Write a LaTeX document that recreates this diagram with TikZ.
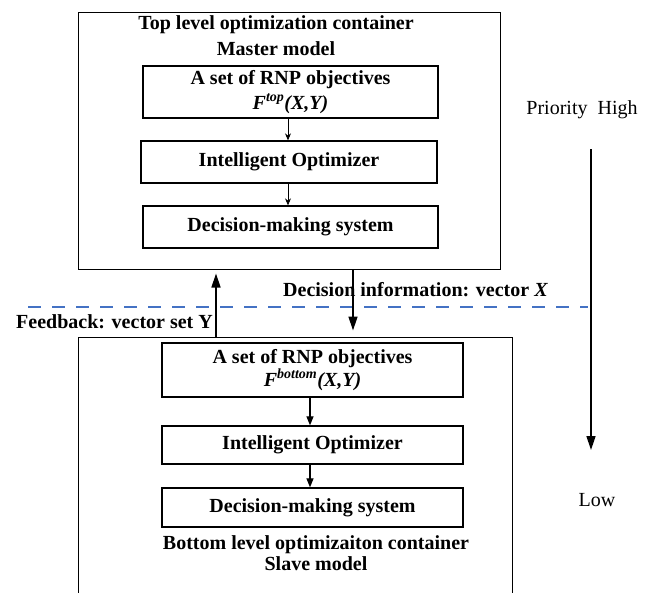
\documentclass[tikz,border=0pt]{standalone}
\usepackage{fontspec}
\setmainfont{Liberation Serif}
\usetikzlibrary{arrows.meta}
\definecolor{dashblue}{RGB}{68,114,196}
\begin{document}
\begin{tikzpicture}[x=1pt,y=-1pt,
  every node/.style={font=\fontsize{20}{25}\selectfont\bfseries, inner sep=0pt},
  box/.style={draw, line width=1.3pt, align=center},
  cont/.style={draw, line width=1pt},
  bigarrow/.style={line width=1.4pt, -{Triangle[length=14pt,width=9pt]}},
  smallarrow/.style={line width=0.9pt, -{Stealth[length=7pt,width=6pt]}},
  midarrow/.style={line width=1.2pt, -{Triangle[length=9pt,width=7pt]}},
  plain/.style={font=\fontsize{20}{24}\selectfont},
]
\useasboundingbox (0,0) rectangle (645,592);
\clip (0,0) rectangle (645,592);
% containers
\node[cont, minimum width=422pt, minimum height=257pt] (top) at (289,140.5) {};
\node[cont, minimum width=434pt, minimum height=280pt] (bot) at (295,477) {};
% top container content
\node[align=center, font=\fontsize{20}{26}\selectfont\bfseries] (toptitle) at (276,36) {Top level optimization container\\Master model};
\node[box, minimum width=295pt, minimum height=52pt] (t1) at (290.5,92) {A set of RNP objectives\\\textit{F\textsuperscript{top}(X,Y)}};
\node[box, minimum width=296pt, minimum height=42pt] (t2) at (289,162) {Intelligent Optimizer};
\node[box, minimum width=295pt, minimum height=42pt] (t3) at (290.5,227) {Decision-making system};
% bottom container content
\node[box, minimum width=301pt, minimum height=54pt, font=\fontsize{20}{23}\selectfont\bfseries] (b1) at (312.5,370) {A set of RNP objectives\\\textit{F\textsuperscript{bottom}(X,Y)}};
\node[box, minimum width=301pt, minimum height=38pt] (b2) at (312.5,445) {Intelligent Optimizer};
\node[box, minimum width=301pt, minimum height=39pt] (b3) at (312.5,507.5) {Decision-making system};
\node[align=center, font=\fontsize{20}{21}\selectfont\bfseries] (bottitle) at (316,553) {Bottom level optimizaiton container\\Slave model};
% inner arrows
\coordinate (ax) at (288,0);
\coordinate (bx) at (310,0);
\draw[smallarrow] (t1.south -| ax) -- (t2.north -| ax);
\draw[smallarrow] (t2.south -| ax) -- (t3.north -| ax);
\draw[midarrow] (b1.south -| bx) -- (b2.north -| bx);
\draw[midarrow] (b2.south -| bx) -- (b3.north -| bx);
% dashed separator
\coordinate (dl) at (28,307);
\coordinate (dr) at (588,307);
\draw[dashblue, line width=1.5pt, dash pattern=on 13pt off 11pt] (dl) -- (dr);
% labels
\node[anchor=east] (fbl) at (213,322) {Feedback: vector set Y};
\node[anchor=west] (dil) at (283,290) {Decision information: vector \textit{X}};
% feedback / decision arrows
\coordinate (fbx) at (216,0);
\coordinate (dix) at (353,0);
\draw[bigarrow, shorten >=4pt] (bot.north -| fbx) -- (top.south -| fbx);
\draw[bigarrow, shorten >=6pt] (top.south -| dix) -- (bot.north -| dix);
% priority
\node[plain] (hi) at (582,110) {Priority\hspace{0.5em}High};
\node[plain] (lo) at (597,500) {Low};
\coordinate (pa) at (591,149);
\coordinate (pb) at (591,450);
\draw[bigarrow] (pa) -- (pb);
\end{tikzpicture}
\end{document}
